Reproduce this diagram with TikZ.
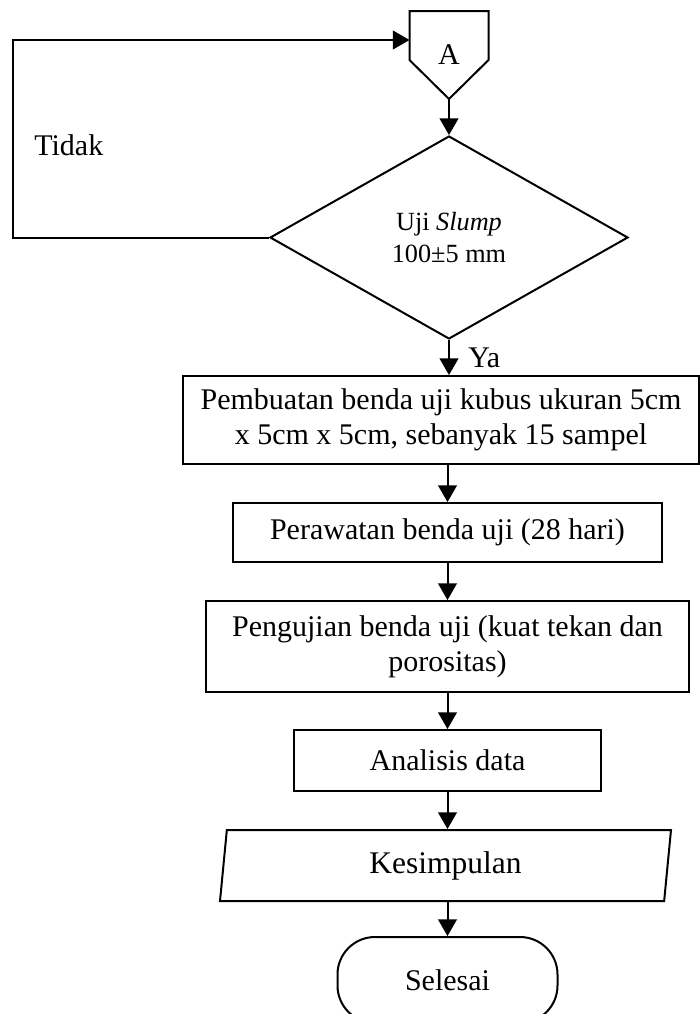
\documentclass[tikz,border=0pt]{standalone}
\usepackage{fontspec}
\setmainfont{Liberation Serif}
\usepackage{tikz}
\usetikzlibrary{arrows,shapes.geometric,calc}

\begin{document}
\begin{tikzpicture}[x=0.4pt,y=-0.4pt,line width=0.8pt,
   panah/.style={-triangle 60},
   proses/.style={draw,rectangle,align=center,inner sep=0pt,font=\fontsize{12}{14}\selectfont},
   keputusan/.style={draw,diamond,align=center,inner sep=0pt,font=\fontsize{10.5}{12.8}\selectfont},
   io/.style={draw,trapezium,trapezium left angle=76.5,trapezium right angle=103.5,
      trapezium stretches body,inner sep=0pt,font=\fontsize{12.6}{14}\selectfont},
   terminal/.style={draw,rectangle,rounded corners=15pt,inner sep=0pt,font=\fontsize{12}{14}\selectfont}]
   \useasboundingbox (0,0) rectangle (700,1014);
   % konektor A
   \node[inner sep=0pt,minimum width=30.8pt,minimum height=34.4pt,font=\fontsize{12}{14}\selectfont] (a) at (449,55) {A};
   \draw (a.north west) -- (a.north east) -- ($(a.north east)+(0,49)$) -- (a.south) -- ($(a.north west)+(0,49)$) -- cycle;
   \node[keputusan,minimum width=143.2pt,minimum height=81.2pt] (uji) at (449,237.5) {Uji \textit{Slump}\\100±5 mm};
   \node[proses,minimum width=206pt,minimum height=35.2pt] (buat) at (441,420) {Pembuatan benda uji kubus ukuran 5cm\\x 5cm x 5cm, sebanyak 15 sampel};
   \node[proses,minimum width=171.2pt,minimum height=23.6pt] (rawat) at (447.5,532.5) {Perawatan benda uji (28 hari)};
   \node[proses,minimum width=193.2pt,minimum height=36.4pt] (tes) at (447.5,646.5) {Pengujian benda uji (kuat tekan dan\\porositas)};
   \node[proses,minimum width=122.8pt,minimum height=24.4pt] (analisis) at (447.5,760.5) {Analisis data};
   \node[io,minimum width=180.4pt,minimum height=28.4pt] (kes) at (445.5,865.5) {Kesimpulan};
   \node[terminal,minimum width=88pt,minimum height=34.4pt] (selesai) at (447.5,980) {Selesai};
   % panah
   \draw[panah] (a.south) -- (uji.north);
   \draw[panah] (uji.south) -- (uji.south |- buat.north);
   \draw[panah] (rawat.north |- buat.south) -- (rawat.north);
   \draw[panah] (rawat.south) -- (tes.north);
   \draw[panah] (tes.south) -- (analisis.north);
   \draw[panah] (analisis.south) -- (analisis.south |- kes.north);
   \draw[panah] (selesai.north |- kes.south) -- (selesai.north);
   \draw[panah] (uji.west) -- (13,237.5) |- ($(a.north west)+(0,29)$);
   \draw (uji.south) node[anchor=west,xshift=4pt,yshift=-7pt,font=\fontsize{12}{14}\selectfont] {Ya};
   \draw (25,145) node[anchor=west,font=\fontsize{12}{14}\selectfont] {Tidak};
\end{tikzpicture}
\end{document}
